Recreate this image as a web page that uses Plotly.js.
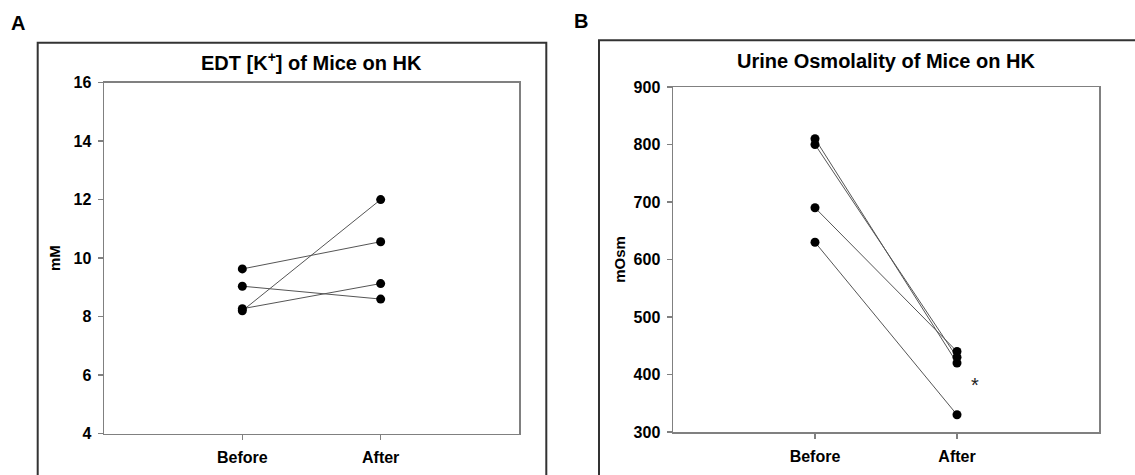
<!DOCTYPE html>
<html>
<head>
<meta charset="utf-8">
<script src="https://cdn.plot.ly/plotly-3.0.1.min.js"></script>
<style>html,body{margin:0;padding:0;background:#fff;}#chart{width:1135px;height:475px;}</style>
</head>
<body>
<div id="chart"></div>
<script>
// Categories
const categories = ['Before', 'After'];

// Panel A: EDT [K+] (mM), one pair per mouse
const edtBefore = [8.2, 9.63, 9.04, 8.27];
const edtAfter  = [12.0, 10.56, 8.6, 9.13];
const edtTicks = [4, 6, 8, 10, 12, 14, 16];

// Panel B: Urine osmolality (mOsm), one pair per mouse
const osmBefore = [810, 800, 690, 630];
const osmAfter  = [420, 430, 440, 330];
const osmTicks = [300, 400, 500, 600, 700, 800, 900];

const W = 1135, H = 475;
const px = v => v / W;
const py = v => 1 - v / H;

const lineCol = '#555555';
const traces = [];
function addPairs(before, after, xa, ya) {
  for (let i = 0; i < before.length; i++) {
    traces.push({
      x: categories, y: [before[i], after[i]],
      xaxis: xa, yaxis: ya, type: 'scatter', mode: 'lines+markers',
      line: {color: lineCol, width: 1},
      marker: {color: '#000', size: 9},
      showlegend: false, hoverinfo: 'x+y'
    });
  }
}
addPairs(edtBefore, edtAfter, 'x', 'y');
addPairs(osmBefore, osmAfter, 'x2', 'y2');

const tickFont = {family: 'Liberation Sans, Arial, sans-serif', size: 16, color: '#000', weight: 'bold'};
const axisCommon = {
  showline: true, mirror: true, linecolor: '#808080', linewidth: 1.5,
  ticks: 'outside', ticklen: 5, tickcolor: '#808080', tickwidth: 1.5,
  showgrid: false, zeroline: false, tickfont: tickFont, fixedrange: true
};

const layout = {
  width: W, height: H,
  margin: {l: 0, r: 0, t: 0, b: 0},
  paper_bgcolor: '#fff', plot_bgcolor: '#fff',
  font: {family: 'Liberation Sans, Arial, sans-serif', color: '#000'},
  xaxis: Object.assign({}, axisCommon, {
    domain: [px(104), px(519)], anchor: 'y', type: 'category', range: [-1, 2], ticklabelstandoff: 4
  }),
  yaxis: Object.assign({}, axisCommon, {
    domain: [py(433.7), py(82.5)], anchor: 'x', range: [4, 16], tickvals: edtTicks, ticklabelstandoff: 3,
    title: {text: 'mM', font: {size: 15, weight: 'bold', color: '#000'}, standoff: 9}
  }),
  xaxis2: Object.assign({}, axisCommon, {
    domain: [px(673), px(1099)], anchor: 'y2', type: 'category', range: [-1, 2], ticklabelstandoff: 4
  }),
  yaxis2: Object.assign({}, axisCommon, {
    domain: [py(432), py(87)], anchor: 'x2', range: [300, 900], tickvals: osmTicks, ticklabelstandoff: 3,
    title: {text: 'mOsm', font: {size: 15, weight: 'bold', color: '#000'}, standoff: 4}
  }),
  shapes: [
    {type: 'rect', xref: 'paper', yref: 'paper', x0: px(37.7), x1: px(546.3), y0: -0.2, y1: py(42.7),
     line: {color: '#333', width: 2}},
    {type: 'rect', xref: 'paper', yref: 'paper', x0: px(599), x1: 1.2, y0: -0.2, y1: py(40.3),
     line: {color: '#333', width: 2}}
  ],
  annotations: [
    {text: 'A', xref: 'paper', yref: 'paper', x: px(18), y: py(23), showarrow: false,
     font: {size: 20, weight: 'bold'}, xanchor: 'center', yanchor: 'middle'},
    {text: 'B', xref: 'paper', yref: 'paper', x: px(581), y: py(21), showarrow: false,
     font: {size: 20, weight: 'bold'}, xanchor: 'center', yanchor: 'middle'},
    {text: 'EDT [K<sup>+</sup>] of Mice on HK', xref: 'paper', yref: 'paper', x: px(311.5), y: py(61),
     showarrow: false, font: {size: 20, weight: 'bold'}, xanchor: 'center', yanchor: 'middle'},
    {text: 'Urine Osmolality of Mice on HK', xref: 'paper', yref: 'paper', x: px(886), y: py(61),
     showarrow: false, font: {size: 20, weight: 'bold'}, xanchor: 'center', yanchor: 'middle'},
    {text: '*', xref: 'x2', yref: 'y2', x: 1.13, y: 382, showarrow: false,
     font: {size: 20, color: '#222'}, xanchor: 'center', yanchor: 'middle'}
  ]
};

Plotly.newPlot('chart', traces, layout, {displayModeBar: false, staticPlot: true});
</script>
</body>
</html>
